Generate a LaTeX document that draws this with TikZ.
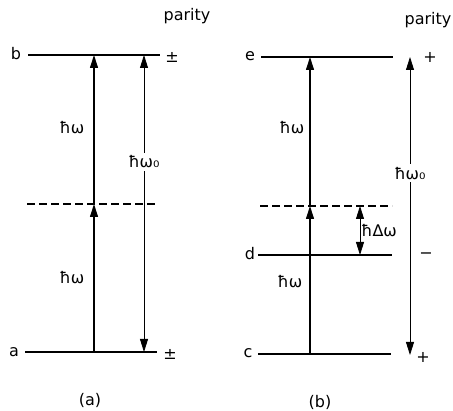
\documentclass[tikz,border=0pt]{standalone}
\usepackage{fontspec}
\setmainfont{DejaVu Sans}
\usetikzlibrary{arrows.meta}

\begin{document}
\begin{tikzpicture}[x=1pt, y=-1pt,
    level/.style={line width=1.2pt},
    virtual/.style={line width=1.2pt, dash pattern=on 8pt off 4pt},
    photon/.style={-{Triangle[length=13pt,width=8pt]}, line width=1.1pt},
    span/.style={{Triangle[length=13pt,width=8pt]}-{Triangle[length=13pt,width=8pt]}, line width=0.8pt},
    lbl/.style={font=\fontsize{16}{18}\selectfont, inner sep=1pt}
  ]
    \useasboundingbox (0,0) rectangle (453,411);
    % (a) levels
    \coordinate (b-l) at (28,55);   \coordinate (b-r) at (160,55);
    \coordinate (va-l) at (27,204); \coordinate (va-r) at (158,204);
    \coordinate (a-l) at (25,352);  \coordinate (a-r) at (157,352);
    \draw[level] (b-l) -- (b-r);
    \draw[virtual] (va-l) -- (va-r);
    \draw[level] (a-l) -- (a-r);
    \node[lbl] (b) at (16,54) {b};
    \node[lbl] (a) at (14,352) {a};
    \node[lbl] (pb) at (172,57) {±};
    \node[lbl] (pa) at (170,354) {±};
    \node[lbl] (parA) at (187,16) {parity};
    % (a) transitions
    \coordinate (ha0) at (94,352); \coordinate (ha1) at (94,204); \coordinate (ha2) at (94,55);
    \draw[photon] (ha0) -- (ha1);
    \draw[photon] (ha1) -- (ha2);
    \node[lbl] (wa1) at (72,128) {ħω};
    \node[lbl] (wa2) at (72,278) {ħω};
    \coordinate (wa-top) at (144,55); \coordinate (wa-bot) at (144,352);
    \draw[span] (wa-top) -- node[lbl, fill=white, pos=0.36, inner sep=3pt] (wa0) {ħω₀} (wa-bot);
    \node[lbl] (capA) at (90,400) {(a)};
    % (b) levels
    \coordinate (e-l) at (261,57);  \coordinate (e-r) at (393,57);
    \coordinate (vb-l) at (260,206); \coordinate (vb-r) at (392,206);
    \coordinate (d-l) at (258,255); \coordinate (d-r) at (392,255);
    \coordinate (c-l) at (258,354); \coordinate (c-r) at (391,354);
    \draw[level] (e-l) -- (e-r);
    \draw[virtual] (vb-l) -- (vb-r);
    \draw[level] (d-l) -- (d-r);
    \draw[level] (c-l) -- (c-r);
    \node[lbl] (e) at (250,56) {e};
    \node[lbl] (d) at (250,254) {d};
    \node[lbl] (c) at (248,353) {c};
    \node[lbl] (pe) at (430,57) {+};
    \node[lbl] (pd) at (426,256) {−};
    \node[lbl] (pc) at (423,357) {+};
    \node[lbl] (parB) at (428,20) {parity};
    % (b) transitions
    \coordinate (hb0) at (310,354); \coordinate (hb1) at (310,206); \coordinate (hb2) at (310,57);
    \draw[photon] (hb0) -- (hb1);
    \draw[photon] (hb1) -- (hb2);
    \node[lbl] (wb1) at (292,128) {ħω};
    \node[lbl] (wb2) at (290,282) {ħω};
    \coordinate (dw-top) at (360,206); \coordinate (dw-bot) at (360,255);
    \draw[span] (dw-top) -- node[lbl, right] (dw) {ħΔω} (dw-bot);
    \coordinate (wb-top) at (410,57); \coordinate (wb-bot) at (410,355);
    \draw[span] (wb-top) -- node[lbl, fill=white, pos=0.39, inner sep=3pt] (wb0) {ħω₀} (wb-bot);
    \node[lbl] (capB) at (320,402) {(b)};
\end{tikzpicture}
\end{document}
